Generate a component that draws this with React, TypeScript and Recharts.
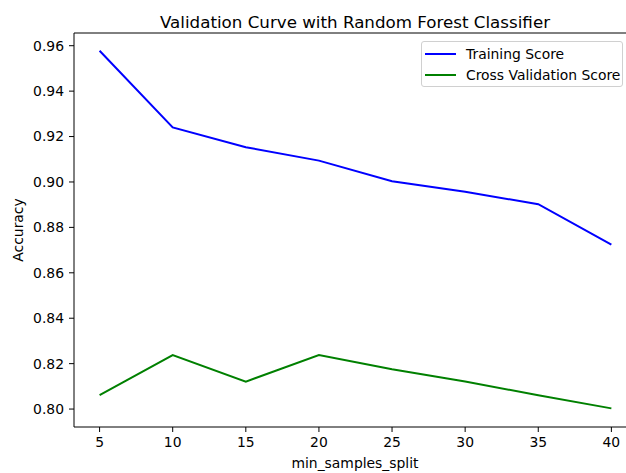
import { LineChart, Line, XAxis, YAxis, ReferenceLine } from 'recharts';

const splits = [5, 10, 15, 20, 25, 30, 35, 40];
const trainingScore = [0.9578, 0.924, 0.9153, 0.9094, 0.9003, 0.8957, 0.8902, 0.8724];
const crossValScore = [0.8061, 0.8238, 0.8121, 0.8238, 0.8175, 0.8121, 0.8061, 0.8003];
const yTicks = [0.8, 0.82, 0.84, 0.86, 0.88, 0.9, 0.92, 0.94, 0.96];

const data = splits.map((s, i) => ({
  split: s,
  training: trainingScore[i],
  cv: crossValScore[i],
}));

const font = "'DejaVu Sans', sans-serif";
const yMax = 0.9656;

function LegendBox() {
  const items = [
    { label: 'Training Score', color: '#0000ff' },
    { label: 'Cross Validation Score', color: '#008000' },
  ];
  return (
    <div
      style={{
        position: 'absolute',
        left: 421,
        top: 41,
        width: 202,
        height: 46,
        border: '1px solid #d0d0d0',
        borderRadius: 3,
        background: 'rgba(255,255,255,0.8)',
        boxSizing: 'border-box',
        fontFamily: font,
        fontSize: 13.9,
        color: '#000',
        paddingTop: 1,
      }}
    >
      {items.map((it) => (
        <div key={it.label} style={{ display: 'flex', alignItems: 'center', height: 21 }}>
          <svg width={44} height={20}>
            <line x1={3} x2={34} y1={10} y2={10} stroke={it.color} strokeWidth={2} />
          </svg>
          <span>{it.label}</span>
        </div>
      ))}
    </div>
  );
}

export default function App() {
  return (
    <div style={{ position: 'absolute', left: 0, top: 0, width: 626, height: 473, background: '#fff' }}>
      <div
        style={{
          position: 'absolute',
          left: 0,
          width: 710,
          top: 12,
          textAlign: 'center',
          fontFamily: font,
          fontSize: 16.7,
          color: '#000',
          whiteSpace: 'nowrap',
        }}
      >
        Validation Curve with Random Forest Classifier
      </div>
      <div
        style={{
          position: 'absolute',
          left: 18,
          top: 230,
          transform: 'translate(-50%, -50%) rotate(-90deg)',
          fontFamily: font,
          fontSize: 13.9,
          color: '#000',
          whiteSpace: 'nowrap',
        }}
      >
        Accuracy
      </div>
      <div
        style={{
          position: 'absolute',
          left: 355,
          top: 463,
          transform: 'translate(-50%, -50%)',
          fontFamily: font,
          fontSize: 13.9,
          color: '#000',
          whiteSpace: 'nowrap',
        }}
      >
        min_samples_split
      </div>
      <LineChart
        width={626}
        height={473}
        data={data}
        margin={{ top: 33, right: 0, left: 0, bottom: 0 }}
        style={{ fontFamily: font }}
      >
        <XAxis
          dataKey="split"
          type="number"
          domain={[3.25, 41]}
          allowDataOverflow
          ticks={splits}
          height={46}
          tickSize={5}
          tickMargin={5}
          tick={{ fill: '#000', fontSize: 13.9 }}
          tickLine={{ stroke: '#000' }}
          axisLine={{ stroke: '#000', strokeWidth: 1 }}
        />
        <YAxis
          type="number"
          domain={[0.7921, yMax]}
          allowDataOverflow
          ticks={yTicks}
          width={74}
          tickSize={5}
          tickMargin={5}
          tickFormatter={(v: number) => v.toFixed(2)}
          tick={{ fill: '#000', fontSize: 13.9 }}
          tickLine={{ stroke: '#000' }}
          axisLine={{ stroke: '#000', strokeWidth: 1 }}
        />
        <ReferenceLine y={yMax} stroke="#000" strokeWidth={1} ifOverflow="visible" />
        <Line
          dataKey="training"
          stroke="#0000ff"
          strokeWidth={2}
          dot={false}
          isAnimationActive={false}
        />
        <Line
          dataKey="cv"
          stroke="#008000"
          strokeWidth={2}
          dot={false}
          isAnimationActive={false}
        />
      </LineChart>
      <LegendBox />
    </div>
  );
}
